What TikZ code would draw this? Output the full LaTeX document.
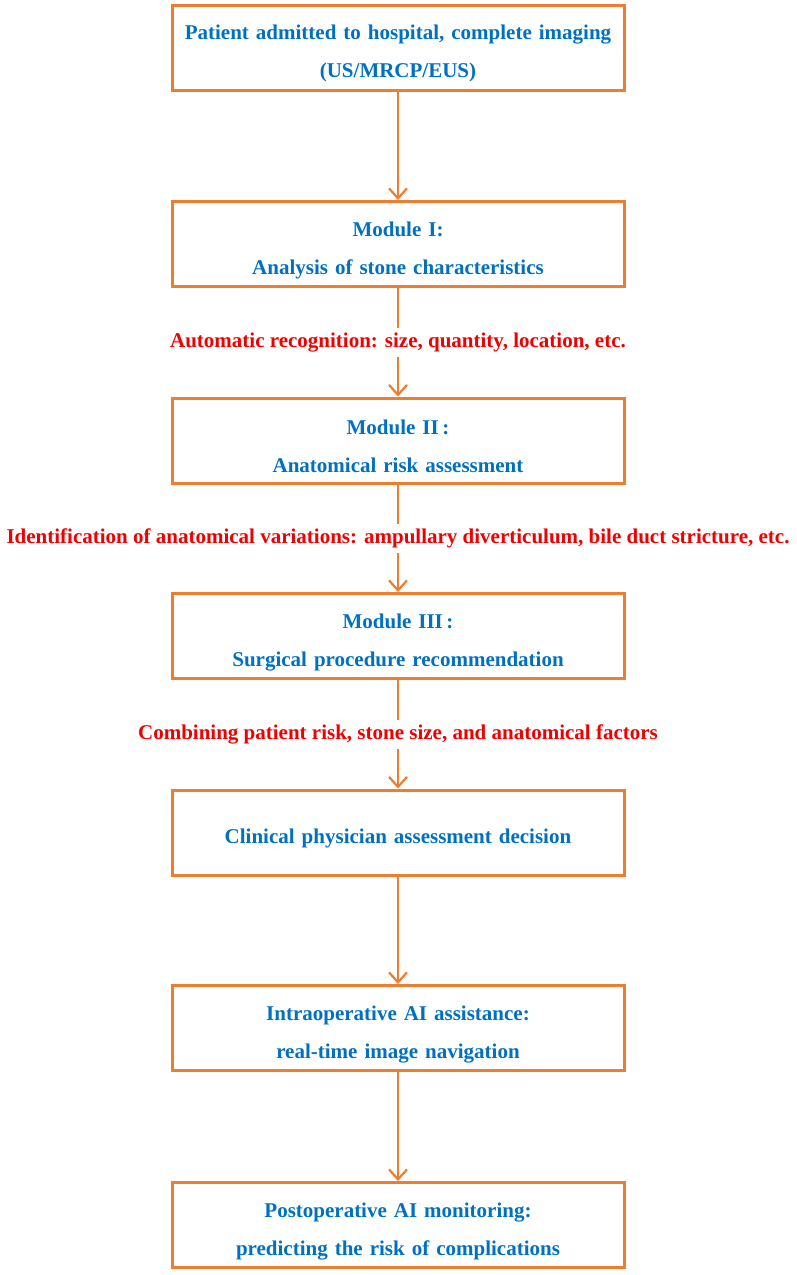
\documentclass[tikz,border=0pt]{standalone}
\usepackage{fontspec}
\setmainfont{Liberation Serif}
\usepackage{tikz}
\usetikzlibrary{arrows.meta,positioning}
\definecolor{OrangeLine}{RGB}{237,125,49}
\definecolor{BlueText}{RGB}{0,112,192}
\definecolor{RedNote}{RGB}{240,0,0}

\begin{document}
\begin{tikzpicture}[
  x=1pt, y=-1pt,
  stepbox/.style={draw=OrangeLine, line width=3pt, minimum width=452pt, minimum height=85pt,
    text width=440pt, align=center, text=BlueText, font=\fontsize{21}{38}\selectfont\bfseries,
    execute at begin node={\rule{0pt}{27pt}}},
  notelabel/.style={fill=white, text=RedNote, inner xsep=2pt, inner ysep=5pt,
    font=\fontsize{21}{24}\selectfont\bfseries},
  flowline/.style={-{Straight Barb[length=10pt, width=18pt]}, line width=2.2pt, OrangeLine}
]
\useasboundingbox (0,0) rectangle (797,1275);

% Boxes
\node[stepbox] (admit) at (398,47.5) {Patient admitted to hospital, complete imaging\\(US/MRCP/EUS)};
\node[stepbox] (modone) at (398,244) {Module I:\\Analysis of stone characteristics};
\node[stepbox] (modtwo) at (398,440.5) {Module II\,:\\Anatomical risk assessment};
\node[stepbox] (modthree) at (398,636) {Module III\,:\\Surgical procedure recommendation};
\node[stepbox] (clinic) at (398,832.5) {Clinical physician assessment decision};
\node[stepbox] (intraop) at (398,1028) {Intraoperative AI assistance:\\real-time image navigation};
\node[stepbox] (postop) at (398,1225) {Postoperative AI monitoring:\\predicting the risk of complications};

% Arrows
\draw[flowline] (admit) -- (modone);
\draw[flowline] (modone) -- node[notelabel] {Automatic recognition: size, quantity, location, etc.} (modtwo);
\draw[flowline] (modtwo) -- node[notelabel] {Identification of anatomical variations: ampullary diverticulum, bile duct stricture, etc.} (modthree);
\draw[flowline] (modthree) -- node[notelabel] {Combining patient risk, stone size, and anatomical factors} (clinic);
\draw[flowline] (clinic) -- (intraop);
\draw[flowline] (intraop) -- (postop);

\end{tikzpicture}
\end{document}
